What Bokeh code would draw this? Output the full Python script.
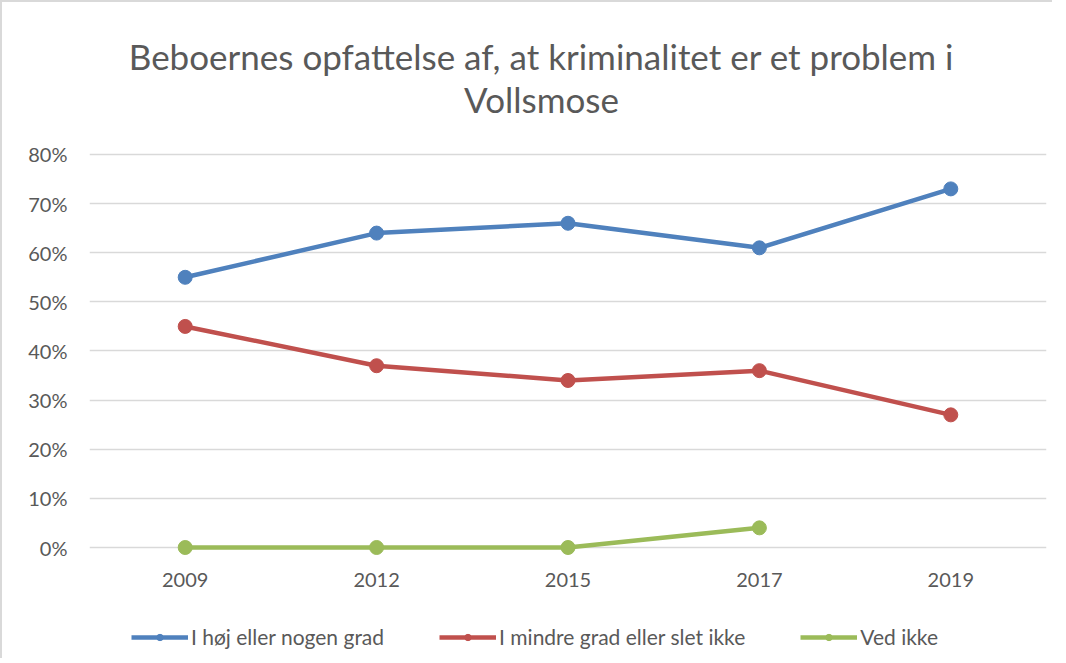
from bokeh.plotting import figure
from bokeh.models import (ColumnDataSource, FixedTicker, NumeralTickFormatter,
                          Legend, LegendItem, Label, FactorRange, Range1d)
from bokeh.core.properties import value
from bokeh.embed import file_html
from bokeh.resources import INLINE
import numpy as np

years = ["2009", "2012", "2015", "2017", "2019"]
hoej = [0.55, 0.64, 0.66, 0.61, 0.73]
mindre = [0.45, 0.37, 0.34, 0.36, 0.27]
ved_ikke = [0.00, 0.00, 0.00, 0.04, np.nan]
series_names = ["I høj eller nogen grad", "I mindre grad eller slet ikke", "Ved ikke"]
colors = ["#4F81BD", "#C0504D", "#9BBB59"]
y_ticks = [0.0, 0.1, 0.2, 0.3, 0.4, 0.5, 0.6, 0.7, 0.8]
title_lines = ["Beboernes opfattelse af, at kriminalitet er et problem i", "Vollsmose"]

FONT = "Lato"
TXT = "#595959"
GRID = "#D9D9D9"

# The frame spans the whole chart so that the title and legend can sit inside it.
p = figure(frame_width=957, frame_height=644, x_range=FactorRange(*years),
           y_range=Range1d(-0.2178, 1.0931),
           output_backend="svg", toolbar_location=None, title=None,
           min_border_left=87, min_border_right=6, min_border_top=8, min_border_bottom=4)
p.styles = {"border-top": "2px solid #D9D9D9", "border-left": "2px solid #D9D9D9"}

# title (two centred lines)
for line, ypos in zip(title_lines, [1.0, 0.912]):
    p.add_layout(Label(x=452, y=ypos, x_units="screen", y_units="data", text=line,
                       text_align="center", text_baseline="middle", text_font=FONT,
                       text_font_size="35px", text_color=TXT))

items = []
for vals, name, col in zip([hoej, mindre, ved_ikke], series_names, colors):
    src = ColumnDataSource(dict(x=years, y=vals))
    l = p.line("x", "y", source=src, line_color=col, line_width=4.5)
    c = p.scatter("x", "y", source=src, size=14, fill_color=col, line_color=col)
    items.append(LegendItem(label=name, renderers=[l, c]))

# category labels under the 0% line
cat_src = ColumnDataSource(dict(x=years, y=[0.0] * len(years), t=years))
p.text("x", "y", text="t", source=cat_src, y_offset=32, text_align="center",
       text_baseline="middle", text_font=value(FONT), text_font_size="20px",
       text_color=TXT)

p.outline_line_color = None
p.xgrid.grid_line_color = None
p.ygrid.grid_line_color = GRID
p.ygrid.grid_line_width = 1.5
p.ygrid.ticker = FixedTicker(ticks=y_ticks)

p.xaxis.visible = False

p.yaxis.ticker = FixedTicker(ticks=y_ticks)
p.yaxis.formatter = NumeralTickFormatter(format="0%")
p.yaxis.axis_line_color = None
p.yaxis.major_tick_line_color = None
p.yaxis.minor_tick_line_color = None
p.yaxis.major_label_text_font = FONT
p.yaxis.major_label_text_font_size = "20px"
p.yaxis.major_label_text_color = TXT
p.yaxis.major_label_standoff = 16

legend = Legend(items=items, orientation="horizontal", location=(42, 5),
                label_text_font=FONT, label_text_font_size="21px",
                label_text_color=TXT, glyph_width=57, glyph_height=16,
                label_standoff=3, spacing=55, border_line_color=None,
                background_fill_alpha=0, margin=0, padding=5)
p.add_layout(legend, "center")

open("out.html", "w").write(file_html(p, INLINE))
